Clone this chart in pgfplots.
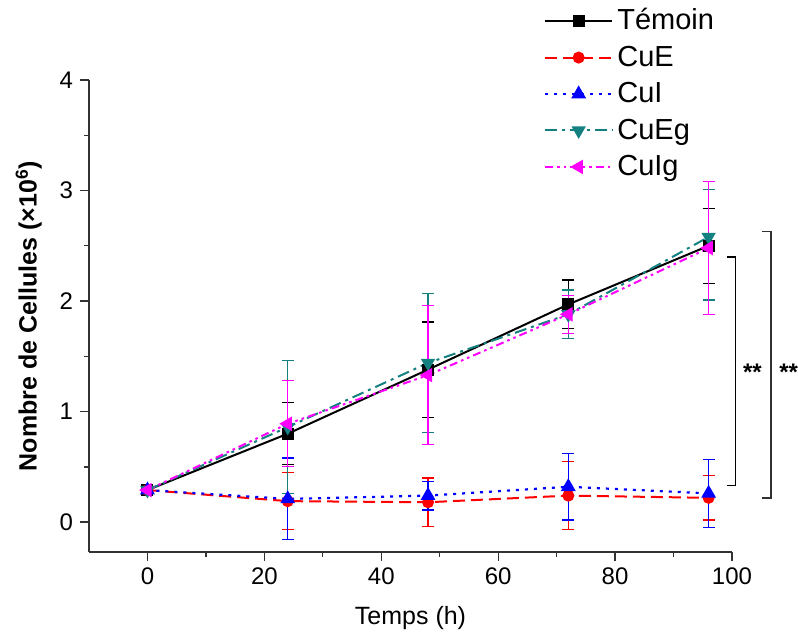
\documentclass[border=0pt]{standalone}
\usepackage{pgfplots}
\pgfplotsset{compat=1.18}
\usepackage{fontspec}
\setmainfont{Liberation Sans}
\setsansfont{Liberation Sans}
\definecolor{tealc}{RGB}{20,128,128}
\definecolor{magc}{RGB}{255,0,255}
\definecolor{axgray}{RGB}{50,50,50}
\begin{document}
\begin{tikzpicture}
\begin{axis}[
  name=ax,
  scale only axis,
  width=321.5pt, height=236pt,
  xmin=-10, xmax=100, ymin=-0.27, ymax=4,
  axis lines*=left,
  axis line style={axgray, line width=0.65pt, -},
  tick align=outside,
  major tick length=4.5pt, minor tick length=2.3pt,
  tick style={axgray, line width=0.65pt},
  xtick={0,20,40,60,80,100}, minor x tick num=1,
  ytick={0,1,2,3,4}, minor y tick num=1,
  /pgf/number format/assume math mode=true,
  ticklabel style={font=\fontsize{12}{14}\selectfont},
  xlabel={Temps (h)},
  ylabel={\textbf{Nombre de Cellules (×10\textsuperscript{6})}},
  label style={font=\fontsize{12.5}{15}\selectfont},
  xlabel style={yshift=-4pt},
  ylabel style={yshift=2pt},
  clip=false,
  legend cell align=left,
  legend style={draw=none, fill=none, at={(rel axis cs:0.707,1.161)}, anchor=north west,
    font=\fontsize{14.5}{17}\selectfont, row sep=2.6pt, inner sep=0pt,
    /tikz/every even column/.append style={column sep=2pt}},
  legend image code/.code={\draw[mark repeat=2,mark phase=2,#1] plot coordinates {(0cm,0cm) (0.59cm,0cm) (1.18cm,0cm)};},
  error bars/y dir=both, error bars/y explicit,
  error bars/error bar style={solid, line width=0.6pt},
  error bars/error mark options={rotate=90, mark size=3pt, line width=0.6pt, solid},
]
\addplot[black, solid, line width=1pt, mark=square*, mark size=2.5pt, mark options={solid},
  error bars/error bar style={black}]
  coordinates {(0,0.29) +- (0,0.02) (24,0.80) +- (0,0.28) (48,1.38) +- (0,0.43) (72,1.97) +- (0,0.22) (96,2.50) +- (0,0.34)};
\addlegendentry{Témoin}
\addplot[red, dash pattern=on 6pt off 3pt, line width=1pt, mark=*, mark size=2.5pt, mark options={solid},
  error bars/error bar style={red}]
  coordinates {(0,0.29) +- (0,0.02) (24,0.19) +- (0,0.26) (48,0.18) +- (0,0.22) (72,0.24) +- (0,0.31) (96,0.22) +- (0,0.20)};
\addlegendentry{CuE}
\addplot[blue, dash pattern=on 1.5pt off 3pt, line width=1.1pt, mark=triangle*, mark size=3.2pt, mark options={solid},
  error bars/error bar style={blue}]
  coordinates {(0,0.29) +- (0,0.02) (24,0.21) +- (0,0.37) (48,0.24) +- (0,0.13) (72,0.32) +- (0,0.30) (96,0.26) +- (0,0.31)};
\addlegendentry{CuI}
\addplot[tealc, dash pattern=on 6pt off 2.5pt on 1.5pt off 2.5pt, line width=1pt, mark=triangle*, mark size=3.2pt, mark options={solid, rotate=180},
  error bars/error bar style={tealc}]
  coordinates {(0,0.29) += (0,0.02) -= (0,0.02) (24,0.86) += (0,0.60) -= (0,0.60) (48,1.44) += (0,0.63) -= (0,0.63) (72,1.88) += (0,0.22) -= (0,0.22) (96,2.58) += (0,0.43) -= (0,0.57)};
\addlegendentry{CuEg}
\addplot[magc, dash pattern=on 4pt off 2pt on 1.3pt off 2pt on 1.3pt off 2pt, line width=1pt, mark=triangle*, mark size=3.2pt, mark options={solid, rotate=90},
  error bars/error bar style={magc}]
  coordinates {(0,0.29) +- (0,0.02) (24,0.89) +- (0,0.39) (48,1.33) +- (0,0.63) (72,1.88) +- (0,0.17) (96,2.48) +- (0,0.60)};
\addlegendentry{CuIg}
% significance brackets
\draw[black, line width=0.7pt] (axis cs:99.1,0.33) -- (axis cs:100.6,0.33) -- (axis cs:100.6,2.40) -- (axis cs:99.1,2.40);
\draw[axgray, line width=0.7pt] (axis cs:105.1,0.22) -- (axis cs:106.7,0.22) -- (axis cs:106.7,2.63) -- (axis cs:105.1,2.63);
\node[font=\fontsize{12}{14}\selectfont\bfseries] at (axis cs:103.5,1.36) {**};
\node[font=\fontsize{12}{14}\selectfont\bfseries] at (axis cs:109.7,1.36) {**};
\end{axis}
\pgfresetboundingbox
\useasboundingbox (ax.south west) ++(-44.5pt,-44pt) rectangle ++(399pt,320pt);
\end{tikzpicture}
\end{document}
